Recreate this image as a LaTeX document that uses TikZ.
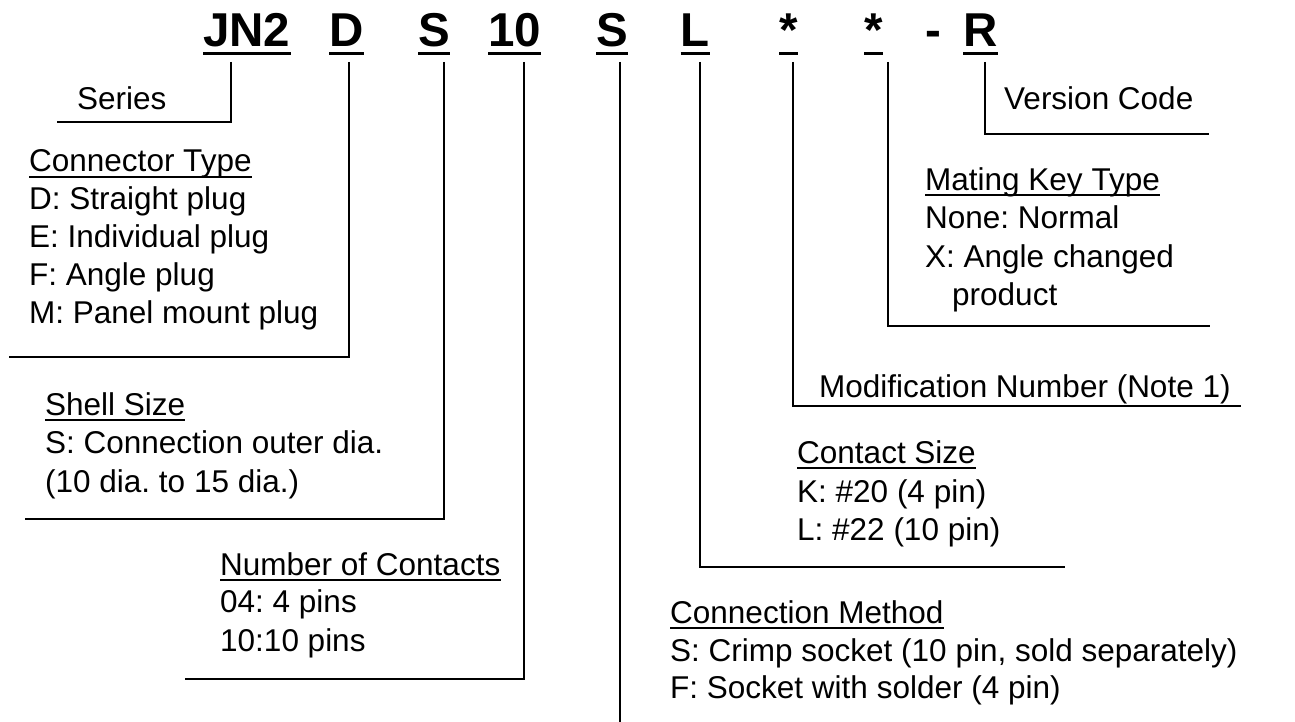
\documentclass[tikz,border=0pt]{standalone}
\usepackage{fontspec}
\setmainfont{Liberation Sans}
\frenchspacing
\begin{document}
\begin{tikzpicture}[x=1pt,y=-1pt,
        code/.style={font=\fontsize{47.5}{50}\selectfont\bfseries, inner sep=0pt, anchor=base west},
        txt/.style={font=\fontsize{31.5}{38}\selectfont, inner sep=0pt, anchor=base west},
        lead/.style={line width=2.8pt},
        ul/.style={line width=1.8pt},
        cul/.style={line width=3pt}]
        \fill[white] (0,0) rectangle (1295,722);
        \useasboundingbox (0,0) rectangle (1295,722);

        % part number
        \node[code] (jn) at (203,47) {JN2};
        \node[code] (d) at (329,47) {D};
        \node[code] (s1) at (418,47) {S};
        \node[code] (n10) at (488,47) {10};
        \node[code] (s2) at (596,47) {S};
        \node[code] (l) at (680.5,47) {L};
        \node[code] (a1) at (779,47) {*};
        \node[code] (a2) at (864,47) {*};
        \node[code] (dash) at (925,47) {-};
        \node[code] (r) at (963,47) {R};
        \foreach \n in {jn,d,s1,n10,s2,l,a1,a2,r}
            \draw[cul] ([yshift=-6.5pt]\n.base west) -- ([yshift=-6.5pt]\n.base east);

        % line ends
        \coordinate (seriesEnd) at (57,122);
        \coordinate (typeEnd) at (9,357);
        \coordinate (shellEnd) at (25,519);
        \coordinate (contEnd) at (185,679);
        \coordinate (methEnd) at (620,722);
        \coordinate (sizeEnd) at (1065,567);
        \coordinate (modEnd) at (1241,406);
        \coordinate (keyEnd) at (1210,326);
        \coordinate (verEnd) at (1209,134);

        \draw[lead] (jn.base west) ++(28,15) |- (seriesEnd);
        \draw[lead] (d.base west) ++(20,15) |- (typeEnd);
        \draw[lead] (s1.base west) ++(26,15) |- (shellEnd);
        \draw[lead] (n10.base west) ++(36,15) |- (contEnd);
        \draw[lead] (s2.base west) ++(24,15) -- (methEnd);
        \draw[lead] (l.base west) ++(19.5,15) |- (sizeEnd);
        \draw[lead] (a1.base west) ++(14,15) |- (modEnd);
        \draw[lead] (a2.base west) ++(24,15) |- (keyEnd);
        \draw[lead] (r.base west) ++(22,15) |- (verEnd);

        % left side
        \node[txt] (series) at (77,110) {Series};
        \node[txt] (ctype) at (29,172) {Connector Type};
        \foreach \t [count=\i] in {{D: Straight plug},{E: Individual plug},{F: Angle plug},{M: Panel mount plug}}
            \node[txt] (ctype\i) at (29,172+37.8*\i) {\t};
        \node[txt] (shell) at (45,415) {Shell Size};
        \node[txt] (shell1) at (45,453) {S: Connection outer dia.};
        \node[txt] (shell2) at (45,492) {(10 dia. to 15 dia.)};
        \node[txt] (ncont) at (220,575) {Number of Contacts};
        \node[txt] (ncont1) at (220,612) {04: 4 pins};
        \node[txt] (ncont2) at (220,651) {10:10 pins};

        % right side
        \node[txt] (ver) at (1004,110) {Version Code};
        \node[txt] (mkey) at (925,190) {Mating Key Type};
        \node[txt] (mkey1) at (925,228) {None: Normal};
        \node[txt] (mkey2) at (925,267) {X: Angle changed};
        \node[txt] (mkey3) at (952,305) {product};
        \node[txt] (mod) at (819,397) {Modification Number (Note 1)};
        \node[txt] (csize) at (797,463) {Contact Size};
        \node[txt] (csize1) at (797,502) {K: \#20 (4 pin)};
        \node[txt] (csize2) at (797,540) {L: \#22 (10 pin)};
        \node[txt] (cmeth) at (670,623) {Connection Method};
        \node[txt] (cmeth1) at (670,661) {S: Crimp socket (10 pin, sold separately)};
        \node[txt] (cmeth2) at (670,698) {F: Socket with solder (4 pin)};

        \foreach \n in {ctype,shell,ncont,mkey,csize,cmeth}
            \draw[ul] ([yshift=-5pt]\n.base west) -- ([yshift=-5pt]\n.base east);
    \end{tikzpicture}
\end{document}
